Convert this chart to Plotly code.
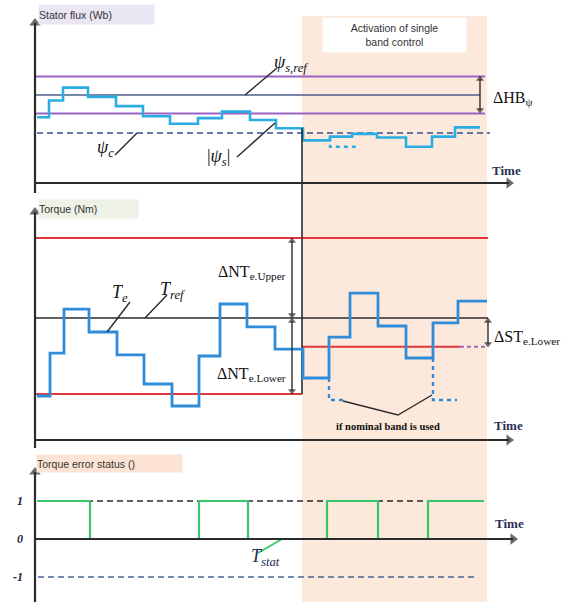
import plotly.graph_objects as go

# ---------------- data ----------------
# time axis (arbitrary units); the single-band control is active between these times
t_activation = [267, 452]

# stator flux (Wb): band limits, reference, and the |psi_s| staircase
flux_ref = 1.0
flux_upper = 1.1
flux_lower = 0.9
flux_c = 0.795
flux_t = [2, 14, 28, 53, 81, 108, 135, 163, 187, 215, 241, 268, 295, 317, 342, 371, 397, 420, 445]
flux_v = [0.88, 0.97, 1.04, 0.99, 0.94, 0.885, 0.845, 0.875, 0.91, 0.865, 0.82,
          0.755, 0.775, 0.79, 0.77, 0.72, 0.775, 0.825]
flux_nominal_t = [295, 295, 323]
flux_nominal_v = [0.775, 0.72, 0.72]

# torque (Nm): bands, reference and Te staircase
torque_ref = 0.0
torque_upper = 1.0
torque_lower_nominal = -0.95
torque_lower_single = -0.36
torque_t = [2, 15, 29, 54, 82, 109, 137, 164, 185, 212, 240, 268, 294, 315, 343, 371, 398, 423, 452]
torque_v = [-0.975, -0.44, 0.11, -0.175, -0.46, -0.825, -1.1, -0.475, 0.175, -0.11, -0.39,
            -0.75, -0.24, 0.31, -0.1, -0.5, -0.06, 0.21]
torque_nominal_1_t = [294, 294, 312]
torque_nominal_1_v = [-0.75, -1.025, -1.025]
torque_nominal_2_t = [398, 398, 422]
torque_nominal_2_v = [-0.5, -1.025, -1.025]

# torque error status
status_t = [2, 55, 164, 213, 292, 343, 393, 449]
status_v = [1, 0, 1, 0, 1, 0, 1]
status_ticks = [1, 0, -1]
status_tick_text = ["1", "0", "-1"]

# ---------------- geometry ----------------
W, H = 579, 602
X0 = 35  # pixel of time origin


def dom(py_top, py_bot):
    return [1 - py_bot / H, 1 - py_top / H]


# flux panel: pixel rows 0..200, ref at row 95, 185 px per Wb
F_REF_PY, F_SCALE = 95, 185.0
flux_range = [flux_ref - (200 - F_REF_PY) / F_SCALE, flux_ref + F_REF_PY / F_SCALE]
# torque panel: rows 200..448, ref at row 318, 80 px per unit
T_REF_PY, T_SCALE = 318, 80.0
torque_range = [torque_ref - (448 - T_REF_PY) / T_SCALE, torque_ref + (T_REF_PY - 200) / T_SCALE]
# status panel: rows 448..602, zero at row 539, 38 px per unit
S_REF_PY, S_SCALE = 539, 38.0
status_range = [-(602 - S_REF_PY) / S_SCALE, (S_REF_PY - 448) / S_SCALE]


def fv(py):
    return flux_ref + (F_REF_PY - py) / F_SCALE


def tv(py):
    return torque_ref + (T_REF_PY - py) / T_SCALE


def sv(py):
    return (S_REF_PY - py) / S_SCALE


def stairs(t, v):
    return list(t), list(v) + [v[-1]]


PURPLE = "#9c62c6"
REFBLUE = "#4d5d8c"
CYAN = "#2aade3"
TBLUE = "#2f8cd8"
RED = "#e0363c"
GREEN = "#3cc46c"
AXIS = "#2b2b2b"
SERIF = "Liberation Serif, DejaVu Serif, serif"
SANS = "Liberation Sans, Arial, sans-serif"

fig = go.Figure()


def line(xs, ys, yaxis, color, width, dash=None, shape="linear"):
    fig.add_trace(go.Scatter(x=xs, y=ys, mode="lines", xaxis="x", yaxis=yaxis, hoverinfo="skip",
                             line=dict(color=color, width=width, dash=dash, shape=shape)))


def arrow_line(xs, ys, yaxis, symbols, size, width, color=AXIS):
    sizes = [0 if s is None else size for s in symbols]
    syms = ["circle" if s is None else s for s in symbols]
    fig.add_trace(go.Scatter(x=xs, y=ys, mode="lines+markers", xaxis="x", yaxis=yaxis, hoverinfo="skip",
                             line=dict(color=color, width=width),
                             marker=dict(symbol=syms, size=sizes, color=color, line=dict(width=0))))


t_end_band = 450
# ---- flux panel ----
line([0, t_end_band], [flux_upper] * 2, "y", PURPLE, 2)
line([0, 445], [flux_ref] * 2, "y", REFBLUE, 1.6)
line([0, t_end_band], [flux_lower] * 2, "y", PURPLE, 2)
line([2, 455], [flux_c] * 2, "y", "#34508c", 1.6, dash="6px,4px")
fx, fy = stairs(flux_t, flux_v)
line(fx, fy, "y", CYAN, 2.6, shape="hv")
line(flux_nominal_t, flux_nominal_v, "y", CYAN, 2.4, dash="4px,4px")
line([t_activation[0]] * 2, [flux_v[10], flux_range[0]], "y", AXIS, 1.6)

# ---- torque panel ----
line([0, 453], [torque_upper] * 2, "y2", RED, 2)
line([0, 453], [torque_ref] * 2, "y2", AXIS, 1.6)
line([0, t_activation[0]], [torque_lower_nominal] * 2, "y2", RED, 2)
line([t_activation[0], 425], [torque_lower_single] * 2, "y2", RED, 2)
line([425, 453], [torque_lower_single] * 2, "y2", "#a865b5", 2, dash="4px,3px")
line([t_activation[0]] * 2, [torque_range[1], torque_lower_nominal], "y2", AXIS, 1.6)
tx, ty = stairs(torque_t, torque_v)
line(tx, ty, "y2", TBLUE, 2.8, shape="hv")
for nt, nv in [(torque_nominal_1_t, torque_nominal_1_v), (torque_nominal_2_t, torque_nominal_2_v)]:
    line(nt, nv, "y2", TBLUE, 2.4, dash="4px,4px")

# ---- status panel ----
line([2, 395], [1, 1], "y3", AXIS, 1.4, dash="6px,4px")
line([3, 442], [-1, -1], "y3", "#4a6394", 1.6, dash="6px,4px")
sx, sy = stairs(status_t, status_v)
line(sx, sy, "y3", GREEN, 2.2, shape="hv")

# ---- leader lines ----
leaders = [
    ("y", [210, 242], [1.0, fv(68)]),           # psi_s,ref
    ("y", [80, 102], [fv(155), flux_c]),         # psi_c
    ("y", [202, 240], [fv(157), fv(123)]),       # |psi_s|
    ("y2", [72, 95], [tv(332), tv(302)]),        # Te
    ("y2", [110, 132], [0.0, tv(295)]),          # Tref
    ("y2", [308, 363, 397], [tv(401), tv(415), tv(395)]),  # nominal band
]
for ax_, xs, ys in leaders:
    line(xs, ys, ax_, AXIS, 1.4)
line([223, 247], [sv(553), 0], "y3", GREEN, 1.6)

# ---- axes with arrow heads ----
UP, DOWN, RIGHT = "triangle-up", "triangle-down", "triangle-right"
arrow_line([0, 0], [fv(193), fv(23)], "y", [None, UP], 10, 2.2)
arrow_line([0, 474], [fv(183), fv(183)], "y", [None, RIGHT], 10, 2.2)
arrow_line([0, 0], [tv(448), tv(212)], "y2", [None, UP], 10, 2.2)
arrow_line([0, 474], [tv(440), tv(440)], "y2", [None, RIGHT], 10, 2.2)
arrow_line([0, 0], [sv(602), sv(472)], "y3", [None, UP], 10, 2.2)
arrow_line([0, 478], [0, 0], "y3", [None, RIGHT], 10, 2.2)
# band double arrows
arrow_line([445, 445], [fv(110), fv(79)], "y", [DOWN, UP], 7, 1.4)
arrow_line([257, 257], [tv(315), tv(241)], "y2", [DOWN, UP], 7, 1.4)
arrow_line([257, 257], [tv(391), tv(321)], "y2", [DOWN, UP], 7, 1.4)
arrow_line([453, 453], [tv(344), tv(321)], "y2", [DOWN, UP], 7, 1.4)

annotations = []


def label(text, x, y, yref, size=16, xanchor="center", font=SERIF, color="#111111", **kw):
    annotations.append(dict(text=text, x=x, y=y, xref="x", yref=yref, showarrow=False,
                            xanchor=xanchor, yanchor="middle",
                            font=dict(family=font, size=size, color=color), **kw))


label("<i>ψ<sub>s,ref</sub></i>", 237, fv(63), "y", size=18, xanchor="left")
label("<i>ψ<sub>c</sub></i>", 70, fv(148), "y", size=18)
label("|<i>ψ<sub>s</sub></i>|", 183, fv(157), "y", size=18)
label("ΔHB<sub>ψ</sub>", 456, fv(98), "y", size=16, xanchor="left")
label("<b>Time</b>", 455, fv(170), "y", size=13, xanchor="left", color="#2a2f55")
label("<i>T<sub>e</sub></i>", 85, tv(293), "y2", size=18)
label("<i>T<sub>ref</sub></i>", 137, tv(290), "y2", size=18)
label("ΔNT<sub>e.Upper</sub>", 253, tv(272), "y2", size=16, xanchor="right")
label("ΔNT<sub>e.Lower</sub>", 253, tv(374), "y2", size=16, xanchor="right")
label("ΔST<sub>e.Lower</sub>", 457, tv(337), "y2", size=16, xanchor="left")
label("<b>if nominal band is used</b>", 353, tv(426), "y2", size=10.5)
label("<b>Time</b>", 457, tv(425), "y2", size=13, xanchor="left", color="#2a2f55")
label("<i>T<sub>stat</sub></i>", 230, sv(557), "y3", size=18, color="#1e2a55")
label("<b>Time</b>", 458, sv(523), "y3", size=13, xanchor="left", color="#2a2f55")

# panel title boxes
label("Stator flux (Wb)", 3, fv(14.5), "y", size=10.5, xanchor="left", font=SANS, color="#333333",
      bgcolor="#ebe6f3", width=115, height=19, borderpad=0, align="left")
label("Torque (Nm)", 3, tv(209), "y2", size=10.5, xanchor="left", font=SANS, color="#333333",
      bgcolor="#eef2e6", width=99, height=18, borderpad=0, align="left")
label("Torque error status ()", 1, sv(463.5), "y3", size=10.5, xanchor="left", font=SANS,
      color="#333333", bgcolor="#fde3d3", width=145, height=17, borderpad=0, align="left")
label("Activation of single<br>band control", 359.5, fv(35), "y", size=10.5, font=SANS,
      color="#333333", bgcolor="#ffffff", width=143, height=34, borderpad=0)

fig.add_shape(type="rect", xref="x", yref="paper", x0=t_activation[0], x1=t_activation[1],
              y0=0, y1=1 - 16 / H, fillcolor="#fde9dc", line=dict(width=0), layer="below")

hidden = dict(showgrid=False, zeroline=False, showticklabels=False, ticks="", showline=False)
fig.update_layout(
    width=W, height=H, margin=dict(l=0, r=0, t=0, b=0),
    paper_bgcolor="white", plot_bgcolor="rgba(0,0,0,0)", showlegend=False,
    xaxis=dict(range=[-X0, W - X0], domain=[0, 1], anchor="y3", **hidden),
    yaxis=dict(range=flux_range, domain=dom(0, 200), anchor="x", **hidden),
    yaxis2=dict(range=torque_range, domain=dom(200, 448), anchor="x", **hidden),
    yaxis3=dict(range=status_range, domain=dom(448, 602), anchor="free", position=X0 / W,
                showgrid=False, zeroline=False, showline=False, ticks="",
                tickvals=status_ticks, ticktext=["<b><i>%s</i></b>" % s for s in status_tick_text],
                tickfont=dict(family=SERIF, size=12, color="#222244"), ticklabelstandoff=12),
    annotations=annotations,
)
fig.write_html("out.html", config={"displayModeBar": False},
               post_script="document.body.style.margin='0';document.body.style.padding='0';")
